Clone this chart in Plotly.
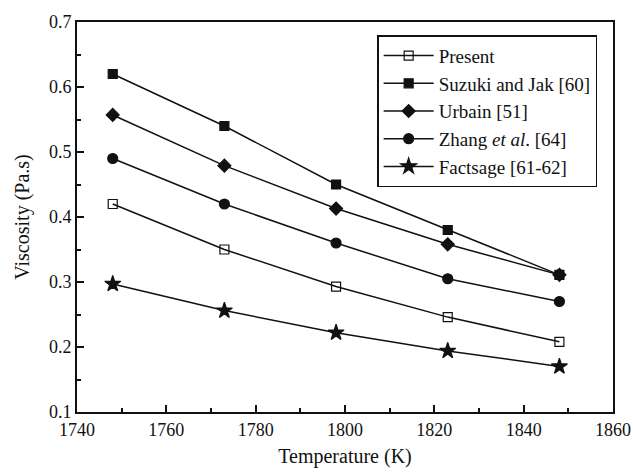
import plotly.graph_objects as go

temperature = [1748, 1773, 1798, 1823, 1848]
present = [0.420, 0.350, 0.293, 0.246, 0.208]
suzuki_jak = [0.620, 0.540, 0.450, 0.380, 0.311]
urbain = [0.557, 0.479, 0.413, 0.358, 0.311]
zhang = [0.490, 0.420, 0.360, 0.305, 0.270]
factsage = [0.297, 0.256, 0.222, 0.194, 0.170]

series = [
    ("Present", present, "square-open", 9),
    ("Suzuki and Jak [60]", suzuki_jak, "square", 9),
    ("Urbain [51]", urbain, "diamond", 10),
    ("Zhang <i>et al</i>. [64]", zhang, "circle", 10),
    ("Factsage [61-62]", factsage, "star", 12),
]

fig = go.Figure()
for name, vals, sym, size in series:
    fig.add_trace(go.Scatter(
        x=temperature, y=vals, name=name, mode="lines+markers",
        line=dict(color="#111111", width=1.5),
        marker=dict(symbol=sym, size=size, color="#111111",
                    line=dict(color="#111111", width=1.2)),
    ))

font = "Liberation Serif"
fig.update_layout(
    width=633, height=474,
    margin=dict(l=77, r=20, t=15, b=62),
    paper_bgcolor="white", plot_bgcolor="white",
    font=dict(family=font, color="#111111", size=18),
    showlegend=True,
    legend=dict(
        x=0.56, y=0.966, xanchor="left", yanchor="top",
        bordercolor="#111111", borderwidth=1.5, bgcolor="white",
        font=dict(family=font, size=19), tracegroupgap=0,
        itemwidth=50,
    ),
    xaxis=dict(
        range=[1740, 1860], dtick=20, tick0=1740,
        showline=True, linecolor="#111111", linewidth=2, mirror=True,
        ticks="inside", ticklen=7, tickwidth=2, tickcolor="#111111",
        minor=dict(dtick=10, ticks="inside", ticklen=4, tickwidth=1.5, tickcolor="#111111"),
        showgrid=False, zeroline=False, ticklabeloverflow="allow", automargin=False,
        tickfont=dict(family=font, size=18),
        title=dict(text="Temperature (K)", font=dict(family=font, size=20), standoff=10),
    ),
    yaxis=dict(
        range=[0.1, 0.7], dtick=0.1, tick0=0.1, tickformat=".1f",
        showline=True, linecolor="#111111", linewidth=2, mirror=True,
        ticks="inside", ticklen=7, tickwidth=2, tickcolor="#111111",
        minor=dict(dtick=0.05, ticks="inside", ticklen=4, tickwidth=1.5, tickcolor="#111111"),
        showgrid=False, zeroline=False,
        tickfont=dict(family=font, size=18),
        title=dict(text="Viscosity (Pa.s)", font=dict(family=font, size=20), standoff=14),
    ),
)

fig.write_html("out.html")
